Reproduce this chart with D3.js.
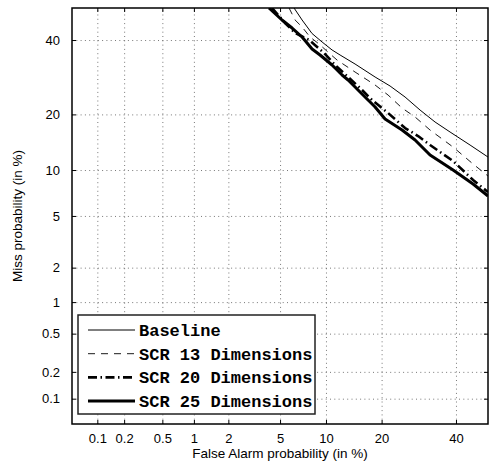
<!DOCTYPE html>
<html>
<head>
<meta charset="utf-8">
<script src="https://cdn.jsdelivr.net/npm/d3@7"></script>
<style>
body { margin: 0; background: #fff; }
text { font-family: "Liberation Sans", Arial, sans-serif; }
text.mono { font-family: "Liberation Mono", "Courier New", monospace; font-weight: bold; }
</style>
</head>
<body>
<svg id="det" width="491" height="463"></svg>
<script>
// tick positions (in %) on both axes of the DET plot
var tickPercents = [0.1, 0.2, 0.5, 1, 2, 5, 10, 20, 40];
var tickLabels = ["0.1", "0.2", "0.5", "1", "2", "5", "10", "20", "40"];
var seriesNames = ["Baseline", "SCR 13 Dimensions", "SCR 20 Dimensions", "SCR 25 Dimensions"];

// curves (false alarm %, miss %)
var baselineFA   = [6.25, 7.07, 8.20, 9.47, 10.87, 12.10, 14.65, 18.59, 21.93, 25.59, 29.55, 33.77, 38.21, 44.36, 50];
var baselineMiss = [50, 46.22, 42.0, 39.4, 37.0, 35.50, 32.89, 29.26, 26.86, 24.07, 20.98, 18.36, 16.33, 13.92, 11.92];

var scr13FA   = [5.78, 6.35, 7.07, 7.96, 9.07, 10.43, 11.62, 14.65, 18.59, 21.46, 24.83, 28.20, 32.34, 39.12, 45.30, 50];
var scr13Miss = [50, 46.22, 44.03, 40.93, 38.79, 36.09, 34.04, 30.63, 27.12, 24.56, 21.44, 19.43, 16.72, 13.57, 10.86, 9.19];

var scr20FA   = [4.38, 5.42, 6.35, 7.85, 9.74, 11.32, 13.42, 15.96, 17.95, 21.46, 25.59, 29.01, 32.34, 39.12, 45.30, 50];
var scr20Miss = [50, 45.28, 42.16, 40.01, 36.09, 32.60, 29.26, 25.83, 23.34, 20.31, 17.12, 15.56, 13.92, 11.31, 8.68, 7.27];

var scr25FA   = [4.16, 5.16, 6.06, 7.07, 8.20, 9.20, 10.87, 12.42, 13.42, 16.54, 18.59, 20.78, 24.83, 28.20, 32.34, 39.12, 45.30, 50];
var scr25Miss = [50, 46.22, 43.71, 40.93, 37.3, 35.50, 32.60, 29.80, 28.45, 24.07, 21.68, 18.99, 16.72, 14.82, 12.24, 10.00, 8.19, 6.85];

var styles = [
	{width: 1, dash: null},
	{width: 0.9, dash: "7,6"},
	{width: 2.6, dash: "9,3.5,1.5,3.5"},
	{width: 3, dash: null}
];

// inverse normal cdf (Acklam)
function probit(p) {
	var a = [-3.969683028665376e+01, 2.209460984245205e+02, -2.759285104469687e+02, 1.383577518672690e+02, -3.066479806614716e+01, 2.506628277459239e+00];
	var b = [-5.447609879822406e+01, 1.615858368580409e+02, -1.556989798598866e+02, 6.680131188771972e+01, -1.328068155288572e+01];
	var c = [-7.784894002430293e-03, -3.223964580411365e-01, -2.400758277161838e+00, -2.549732539343734e+00, 4.374664141464968e+00, 2.938163982698783e+00];
	var d = [7.784695709041462e-03, 3.224671290700398e-01, 2.445134137142996e+00, 3.754408661907416e+00];
	var plow = 0.02425, q, r;
	if (p < plow) {
		q = Math.sqrt(-2 * Math.log(p));
		return (((((c[0]*q+c[1])*q+c[2])*q+c[3])*q+c[4])*q+c[5]) / ((((d[0]*q+d[1])*q+d[2])*q+d[3])*q+1);
	} else if (p <= 1 - plow) {
		q = p - 0.5; r = q * q;
		return (((((a[0]*r+a[1])*r+a[2])*r+a[3])*r+a[4])*r+a[5])*q / (((((b[0]*r+b[1])*r+b[2])*r+b[3])*r+b[4])*r+1);
	}
	q = Math.sqrt(-2 * Math.log(1 - p));
	return -(((((c[0]*q+c[1])*q+c[2])*q+c[3])*q+c[4])*q+c[5]) / ((((d[0]*q+d[1])*q+d[2])*q+d[3])*q+1);
}

var svg = d3.select("#det"),
	margin = {top: 8, right: 3, bottom: 39, left: 72},
	width = +svg.attr("width") - margin.left - margin.right,
	height = +svg.attr("height") - margin.top - margin.bottom;

var chart = svg.append("g")
	.attr("transform", "translate(" + margin.left + "," + margin.top + ")");

var lo = probit(0.0005), hi = probit(0.5);
var x = d3.scaleLinear().domain([lo, hi]).range([0, width]);
var y = d3.scaleLinear().domain([lo, hi]).range([height, 0]);

var tickProbits = tickPercents.map(function(t) { return probit(t / 100); });
function fmt(v) { return tickLabels[tickProbits.indexOf(v)]; }

chart.append("clipPath").attr("id", "clip")
	.append("rect").attr("width", width).attr("height", height);

// dotted grid
chart.append("g")
	.attr("class", "grid")
	.attr("transform", "translate(0," + height + ")")
	.call(d3.axisBottom(x).tickValues(tickProbits).tickSize(-height).tickFormat(""));
chart.append("g")
	.attr("class", "grid")
	.call(d3.axisLeft(y).tickValues(tickProbits).tickSize(-width).tickFormat(""));
chart.selectAll(".grid .domain").remove();
chart.selectAll(".grid line")
	.attr("stroke", "#555")
	.attr("stroke-width", 0.8)
	.attr("stroke-dasharray", "1,3.3");

// curves
var series = [
	{fa: baselineFA, miss: baselineMiss},
	{fa: scr13FA, miss: scr13Miss},
	{fa: scr20FA, miss: scr20Miss},
	{fa: scr25FA, miss: scr25Miss}
];
var line = d3.line()
	.x(function(d) { return x(probit(d[0] / 100)); })
	.y(function(d) { return y(probit(d[1] / 100)); });

chart.append("g").attr("clip-path", "url(#clip)")
	.selectAll("path")
	.data(series)
	.enter().append("path")
	.attr("d", function(s) { return line(s.fa.map(function(v, i) { return [v, s.miss[i]]; })); })
	.attr("fill", "none")
	.attr("stroke", "#000")
	.attr("stroke-linejoin", "round")
	.attr("stroke-width", function(s, i) { return styles[i].width; })
	.attr("stroke-dasharray", function(s, i) { return styles[i].dash; });

// axes with inward ticks on all four sides
chart.append("g")
	.attr("transform", "translate(0," + height + ")")
	.call(d3.axisBottom(x).tickValues(tickProbits).tickSizeInner(-4).tickSizeOuter(0).tickPadding(10).tickFormat(fmt));
chart.append("g")
	.call(d3.axisLeft(y).tickValues(tickProbits).tickSizeInner(-4).tickSizeOuter(0).tickPadding(12).tickFormat(fmt));
chart.append("g")
	.call(d3.axisTop(x).tickValues(tickProbits).tickSizeInner(-4).tickSizeOuter(0).tickFormat(""));
chart.append("g")
	.attr("transform", "translate(" + width + ",0)")
	.call(d3.axisRight(y).tickValues(tickProbits).tickSizeInner(-4).tickSizeOuter(0).tickFormat(""));
chart.selectAll(".domain").remove();
chart.selectAll(".tick text")
	.attr("font-size", 13)
	.attr("fill", "#000");

chart.append("rect")
	.attr("width", width).attr("height", height)
	.attr("fill", "none").attr("stroke", "#000").attr("stroke-width", 1.5);

// axis titles
chart.append("text")
	.attr("x", width / 2).attr("y", height + 34)
	.attr("text-anchor", "middle")
	.attr("font-size", 13.5)
	.text("False Alarm probability (in %)");
chart.append("text")
	.attr("transform", "translate(" + (-50) + "," + (height / 2) + ") rotate(-90)")
	.attr("text-anchor", "middle")
	.attr("font-size", 13.5)
	.text("Miss probability (in %)");

// legend
var legend = chart.append("g").attr("transform", "translate(6,307)");
legend.append("rect")
	.attr("width", 237).attr("height", 99)
	.attr("fill", "#fff").attr("stroke", "#222").attr("stroke-width", 1.5);
var item = legend.selectAll("g.item")
	.data(seriesNames)
	.enter().append("g")
	.attr("class", "item")
	.attr("transform", function(d, i) { return "translate(0," + (15 + i * 23.7) + ")"; });
item.append("line")
	.attr("x1", 10).attr("x2", 57)
	.attr("stroke", "#000")
	.attr("stroke-width", function(d, i) { return styles[i].width; })
	.attr("stroke-dasharray", function(d, i) { return styles[i].dash; });
item.append("text")
	.attr("class", "mono")
	.attr("x", 61).attr("dy", "0.35em")
	.attr("font-size", 17)
	.text(function(d) { return d; });
</script>
</body>
</html>
